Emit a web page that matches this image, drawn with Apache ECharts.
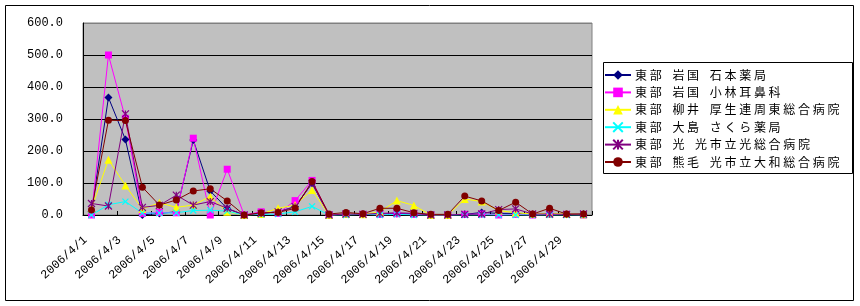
<!DOCTYPE html>
<html>
<head>
<meta charset="utf-8">
<script src="https://cdn.jsdelivr.net/npm/echarts@6/dist/echarts.min.js"></script>
<style>
html,body{margin:0;padding:0;background:#fff;}
#c{width:860px;height:306px;}
</style>
</head>
<body>
<div id="c"></div>
<script>
const categories = ['2006/4/1','2006/4/2','2006/4/3','2006/4/4','2006/4/5','2006/4/6','2006/4/7','2006/4/8','2006/4/9','2006/4/10',
  '2006/4/11','2006/4/12','2006/4/13','2006/4/14','2006/4/15','2006/4/16','2006/4/17','2006/4/18','2006/4/19','2006/4/20',
  '2006/4/21','2006/4/22','2006/4/23','2006/4/24','2006/4/25','2006/4/26','2006/4/27','2006/4/28','2006/4/29','2006/4/30'];

const seriesNames = [
  '東部　岩国　石本薬局',
  '東部　岩国　小林耳鼻科',
  '東部　柳井　厚生連周東総合病院',
  '東部　大島　さくら薬局',
  '東部　光　光市立光総合病院',
  '東部　熊毛　光市立大和総合病院'
];

const ishimoto = [10,367,236,0,5,10,234,75,20,0, 5,10,26,99,0,3,2,3,5,3, 0,0,2,8,5,5,2,3,2,2];
const kobayashi = [0,500,302,5,8,7,240,0,143,0, 10,5,45,108,0,2,2,2,4,2, 0,0,2,3,0,2,0,2,2,0];
const kouseiren = [20,173,92,19,38,24,31,58,10,0, 3,21,31,78,0,3,2,10,45,30, 0,0,50,42,14,7,3,5,3,2];
const sakura = [0,32,42,6,6,7,14,15,12,0, 2,3,10,27,0,0,2,0,2,0, 0,0,0,0,0,0,0,0,0,0];
const hikari = [36,28,316,24,30,62,31,42,21,0, 5,10,26,99,0,3,2,5,7,5, 0,0,2,3,17,19,3,3,2,3];
const yamato = [16,296,295,87,31,47,75,82,44,0, 7,8,21,105,3,8,4,21,21,7, 2,2,59,44,14,40,3,21,3,3];

const yTicks = [0,100,200,300,400,500,600];

const seriesData = [ishimoto, kobayashi, kouseiren, sakura, hikari, yamato];
const colors = ['#000080','#FF00FF','#FFFF00','#00FFFF','#800080','#800000'];
const symbols = ['diamond','rect','triangle','path://M0,0L10,10M10,0L0,10','path://M0,0L10,10M10,0L0,10M5,0L5,10','circle'];
const symbolSizes = [8,7,8,6,7,7];

const chart = echarts.init(document.getElementById('c'), null, {renderer:'canvas'});

const series = seriesData.map((d,i)=>({
  name: seriesNames[i],
  type: 'line',
  data: d,
  symbol: symbols[i],
  symbolSize: symbolSizes[i],
  showAllSymbol: true,
  animation: false,
  lineStyle: {color: colors[i], width: 1},
  itemStyle: {color: colors[i], borderColor: colors[i], borderWidth: (i===3||i===4)?1.2:0},
  emphasis: {disabled: true}
}));

const cjk = 'Noto Sans CJK JP';

chart.setOption({
  animation: false,
  backgroundColor: '#fff',
  grid: {left: 83, right: 268, top: 23, bottom: 91, show: true, backgroundColor: '#C0C0C0', borderColor: '#808080', borderWidth: 1},
  xAxis: {
    type: 'category',
    data: categories,
    boundaryGap: true,
    axisLine: {lineStyle: {color: '#000', width: 1}},
    axisTick: {show: true, inside: true, length: 4, interval: 1, lineStyle: {color: '#000'}},
    axisLabel: {interval: 1, rotate: 42, margin: 18, padding: [0,8,0,0], color: '#000', fontFamily: 'Liberation Mono', fontSize: 12},
    splitLine: {show: false}
  },
  yAxis: {
    type: 'value',
    min: yTicks[0],
    max: yTicks[yTicks.length-1],
    interval: 100,
    axisLine: {show: true, lineStyle: {color: '#000', width: 1}},
    axisTick: {show: false},
    axisLabel: {margin: 20, color: '#000', fontFamily: 'Liberation Mono', fontSize: 12, formatter: v => v.toFixed(1)},
    splitLine: {show: true, lineStyle: {color: ['#000','#000','#000','#000','#000','#000','#808080'], width: 1}}
  },
  legend: {
    orient: 'vertical',
    left: 604,
    top: 69,
    padding: 0,
    itemWidth: 26,
    itemHeight: 12,
    itemGap: 5.4,
    selectedMode: false,
    formatter: name => name.split('').map(ch => ch === '　' ? '{s|　}' : '{c|' + ch + '}').join(''),
    textStyle: {
      color: '#000', fontSize: 12, fontFamily: cjk, padding: [0,0,0,-1],
      rich: {
        c: {width: 14.7, fontSize: 12, fontFamily: cjk, color: '#000'},
        s: {width: 8, fontSize: 12, fontFamily: cjk, color: '#000'}
      }
    },
    data: seriesNames
  },
  graphic: [
    {type: 'rect', shape: {x: 5.5, y: 5.5, width: 848, height: 295}, style: {stroke: '#000', fill: null, lineWidth: 1}, silent: true, z: 100},
    {type: 'rect', shape: {x: 603.5, y: 62.5, width: 249, height: 111}, style: {stroke: '#000', fill: '#fff', lineWidth: 1}, silent: true, z: -1}
  ],
  series: series
});
</script>
</body>
</html>
